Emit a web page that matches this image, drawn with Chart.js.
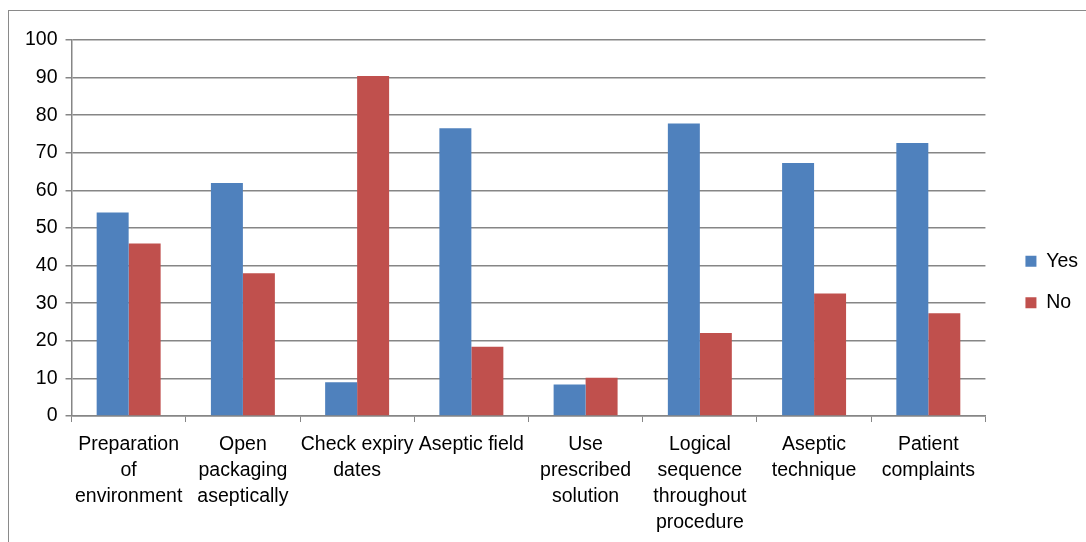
<!DOCTYPE html>
<html>
<head>
<meta charset="utf-8">
<script src="https://cdn.jsdelivr.net/npm/chart.js@4/dist/chart.umd.min.js"></script>
<style>
  html, body { margin: 0; padding: 0; background: #fff; overflow: hidden; }
  #wrap { position: absolute; left: 0; top: 0; width: 1086px; height: 542px; }
  #frame { position: absolute; left: 8px; top: 10px; width: 1200px; height: 700px; border: 1px solid #8a8a8a; box-sizing: border-box; }
  canvas { position: absolute; left: 0; top: 0; }
</style>
</head>
<body>
<div id="wrap">
  <div id="frame"></div>
  <canvas id="c" width="1086" height="542"></canvas>
</div>
<script>
const categories = [
  ["Preparation", "of", "environment"],
  ["Open", "packaging", "aseptically"],
  ["Check expiry", "dates"],
  ["Aseptic field"],
  ["Use", "prescribed", "solution"],
  ["Logical", "sequence", "throughout", "procedure"],
  ["Aseptic", "technique"],
  ["Patient", "complaints"]
];
const yesValues = [54.1, 62.0, 9.0, 76.5, 8.4, 77.8, 67.3, 72.6];
const noValues  = [45.9, 38.0, 90.4, 18.4, 10.2, 22.1, 32.6, 27.3];
const seriesNames = ["Yes", "No"];
const yTicks = { min: 0, max: 100, step: 10 };

const FONT = "'Liberation Sans', Arial, sans-serif";
const FS = 19.5;
const gridColor = "#868686";

const legendShift = {
  id: "legendShift",
  afterLayout(chart) {
    const lg = chart.legend;
    if (!lg) return;
    lg.left += 18; lg.right += 18;
    lg.top -= 11; lg.bottom -= 11;
  }
};

new Chart(document.getElementById("c"), {
  type: "bar",
  data: {
    labels: categories,
    datasets: [
      { label: seriesNames[0], data: yesValues, backgroundColor: "#4F81BD", borderWidth: 0,
        categoryPercentage: 0.56, barPercentage: 1.0 },
      { label: seriesNames[1], data: noValues, backgroundColor: "#C0504D", borderWidth: 0,
        categoryPercentage: 0.56, barPercentage: 1.0 }
    ]
  },
  plugins: [legendShift],
  options: {
    responsive: false,
    animation: false,
    devicePixelRatio: 1,
    layout: { padding: { top: 40, left: 17, right: 16, bottom: -4 } },
    plugins: {
      tooltip: { enabled: false },
      legend: {
        position: "right",
        align: "center",
        labels: {
          boxWidth: 11, boxHeight: 11, padding: 22,
          color: "#000",
          font: { family: FONT, size: FS }
        }
      }
    },
    scales: {
      x: {
        grid: { drawOnChartArea: false, drawTicks: true, tickLength: 6, color: gridColor, lineWidth: 1 },
        border: { color: gridColor, width: 1.5 },
        ticks: { color: "#000", font: { family: FONT, size: FS, lineHeight: 1.333 }, maxRotation: 0, autoSkip: false, padding: 10 }
      },
      y: {
        min: yTicks.min, max: yTicks.max,
        grid: { color: gridColor, lineWidth: 1.5, tickLength: 6, drawTicks: true },
        border: { color: gridColor, width: 1.5 },
        ticks: { stepSize: yTicks.step, color: "#000", font: { family: FONT, size: FS }, padding: 8 }
      }
    }
  }
});
</script>
</body>
</html>
